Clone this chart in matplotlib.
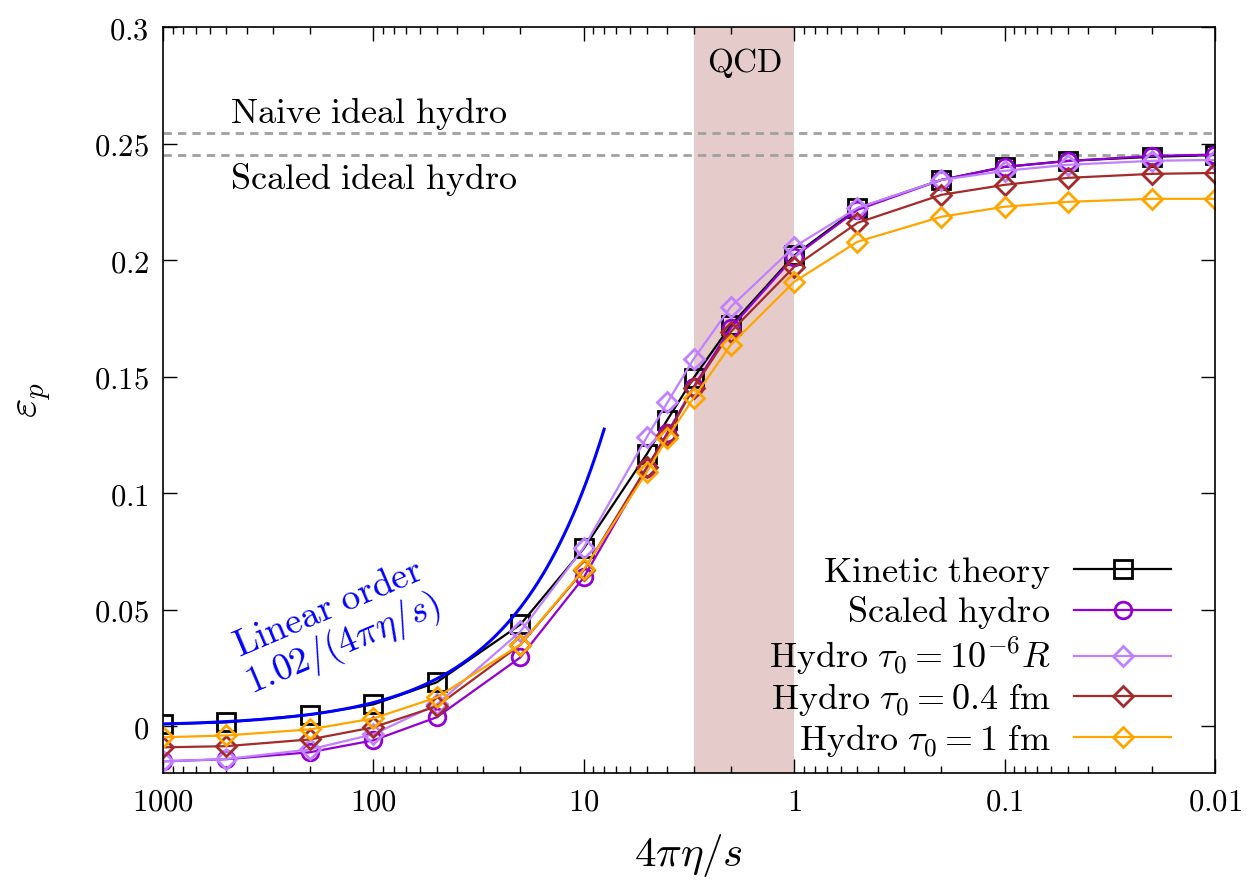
import numpy as np
import matplotlib
matplotlib.use("Agg")
import matplotlib.pyplot as plt
from matplotlib.ticker import FixedLocator, FixedFormatter, LogLocator, NullFormatter

plt.rcParams['mathtext.fontset'] = 'cm'
plt.rcParams['font.family'] = 'serif'
plt.rcParams['font.serif'] = ['DejaVu Serif']

# 4 pi eta / s grid used for all runs
eta_s = [1000, 500, 200, 100, 50, 20, 10, 5, 4, 3, 2, 1, 0.5, 0.2, 0.1, 0.05, 0.02, 0.01]

kinetic = [0.0010, 0.0017, 0.0050, 0.0094, 0.0189, 0.0437, 0.0763, 0.1170, 0.1316, 0.1496,
           0.1720, 0.2020, 0.2222, 0.2344, 0.2400, 0.2426, 0.2443, 0.2451]
scaled_hydro = [-0.0150, -0.0141, -0.0111, -0.0060, 0.0039, 0.0296, 0.0639, 0.1110, 0.1260, 0.1457,
                0.1710, 0.2014, 0.2216, 0.2344, 0.2400, 0.2425, 0.2447, 0.2453]
hydro_1e6 = [-0.0150, -0.0140, -0.0099, -0.0034, 0.0094, 0.0407, 0.0767, 0.1243, 0.1390, 0.1577,
             0.1800, 0.2057, 0.2224, 0.2344, 0.2383, 0.2409, 0.2426, 0.2430]
hydro_04 = [-0.0090, -0.0085, -0.0056, -0.0004, 0.0086, 0.0350, 0.0669, 0.1114, 0.1251, 0.1453,
            0.1693, 0.1971, 0.2160, 0.2280, 0.2323, 0.2353, 0.2370, 0.2374]
hydro_1 = [-0.0047, -0.0039, -0.0013, 0.0034, 0.0124, 0.0351, 0.0673, 0.1093, 0.1239, 0.1410,
           0.1637, 0.1907, 0.2079, 0.2186, 0.2229, 0.2250, 0.2263, 0.2263]

naive_ideal = 0.2546
scaled_ideal = 0.2452
qcd_range = (3, 1)
lin_coef = 1.02
lin_x = np.logspace(np.log10(1000), np.log10(8), 200)

fig = plt.figure(figsize=(12.47, 8.83), dpi=100)
ax = fig.add_axes([0.1307, 0.1246, 0.8436, 0.8448])

ax.axvspan(qcd_range[1], qcd_range[0], color='#e6cbcb', lw=0, zorder=0)
ax.axhline(naive_ideal, color='#a0a0a0', ls=(0, (3, 2.2)), lw=2)
ax.axhline(scaled_ideal, color='#a0a0a0', ls=(0, (3, 2.2)), lw=2)

ax.plot(lin_x, lin_coef / lin_x, color='#0000ff', lw=2.2, zorder=3)

series = [
    (kinetic, 'black', 's', 13, r'$\mathrm{Kinetic\ theory}$'),
    (scaled_hydro, '#9400d3', 'o', 12, r'$\mathrm{Scaled\ hydro}$'),
    (hydro_1e6, '#c080ff', 'D', 10, r'$\mathrm{Hydro}\ \tau_0 = 10^{-6}R$'),
    (hydro_04, '#a52a2a', 'D', 10, r'$\mathrm{Hydro}\ \tau_0 = 0.4\ \mathrm{fm}$'),
    (hydro_1, '#ffa500', 'D', 10, r'$\mathrm{Hydro}\ \tau_0 = 1\ \mathrm{fm}$'),
]
for y, c, m, ms, lab in series:
    ax.plot(eta_s, y, color=c, marker=m, ms=ms, mfc='none', mec=c, mew=2.0, lw=1.6, label=lab)

ax.set_xscale('log')
ax.set_xlim(1000, 0.01)
ax.set_ylim(-0.02, 0.3)

xt = [1000, 100, 10, 1, 0.1, 0.01]
ax.xaxis.set_major_locator(FixedLocator(xt))
ax.xaxis.set_major_formatter(FixedFormatter([r'$%s$' % s for s in ['1000', '100', '10', '1', '0.1', '0.01']]))
ax.xaxis.set_minor_locator(LogLocator(base=10, subs=np.arange(2, 10)))
ax.xaxis.set_minor_formatter(NullFormatter())
yt = [0, 0.05, 0.1, 0.15, 0.2, 0.25, 0.3]
ax.yaxis.set_major_locator(FixedLocator(yt))
ax.yaxis.set_major_formatter(FixedFormatter([r'$%s$' % s for s in ['0', '0.05', '0.1', '0.15', '0.2', '0.25', '0.3']]))

ax.tick_params(which='both', direction='in', top=True, right=True, labelsize=22, width=1)
ax.tick_params(which='major', length=10, pad=10)
ax.tick_params(which='minor', length=5)
for s in ax.spines.values():
    s.set_linewidth(1.2)

ax.set_xlabel(r'$4\pi\eta/s$', fontsize=31, labelpad=10)
ax.set_ylabel(r'$\varepsilon_p$', fontsize=30, labelpad=30)

ax.text(2 ** 0.5 * 1.22, 0.2845, r'$\mathrm{QCD}$', fontsize=24, ha='center', va='center')
ax.text(480, 0.2630, r'$\mathrm{Naive\ ideal\ hydro}$', fontsize=26, ha='left', va='center')
ax.text(480, 0.2345, r'$\mathrm{Scaled\ ideal\ hydro}$', fontsize=26, ha='left', va='center')
ax.text(150, 0.042, r'$\mathrm{Linear\ order}$' + '\n' + r'$1.02/(4\pi\eta/s)$', fontsize=27,
        color='#0000ff', rotation=23, ha='center', va='center', linespacing=1.0)

ax.legend(loc='lower right', bbox_to_anchor=(0.9724, 0.0), frameon=False, markerfirst=False,
          fontsize=26, handlelength=2.7, labelspacing=0.1, borderaxespad=0.0, handletextpad=0.65)

fig.savefig('out.png', dpi=100)
